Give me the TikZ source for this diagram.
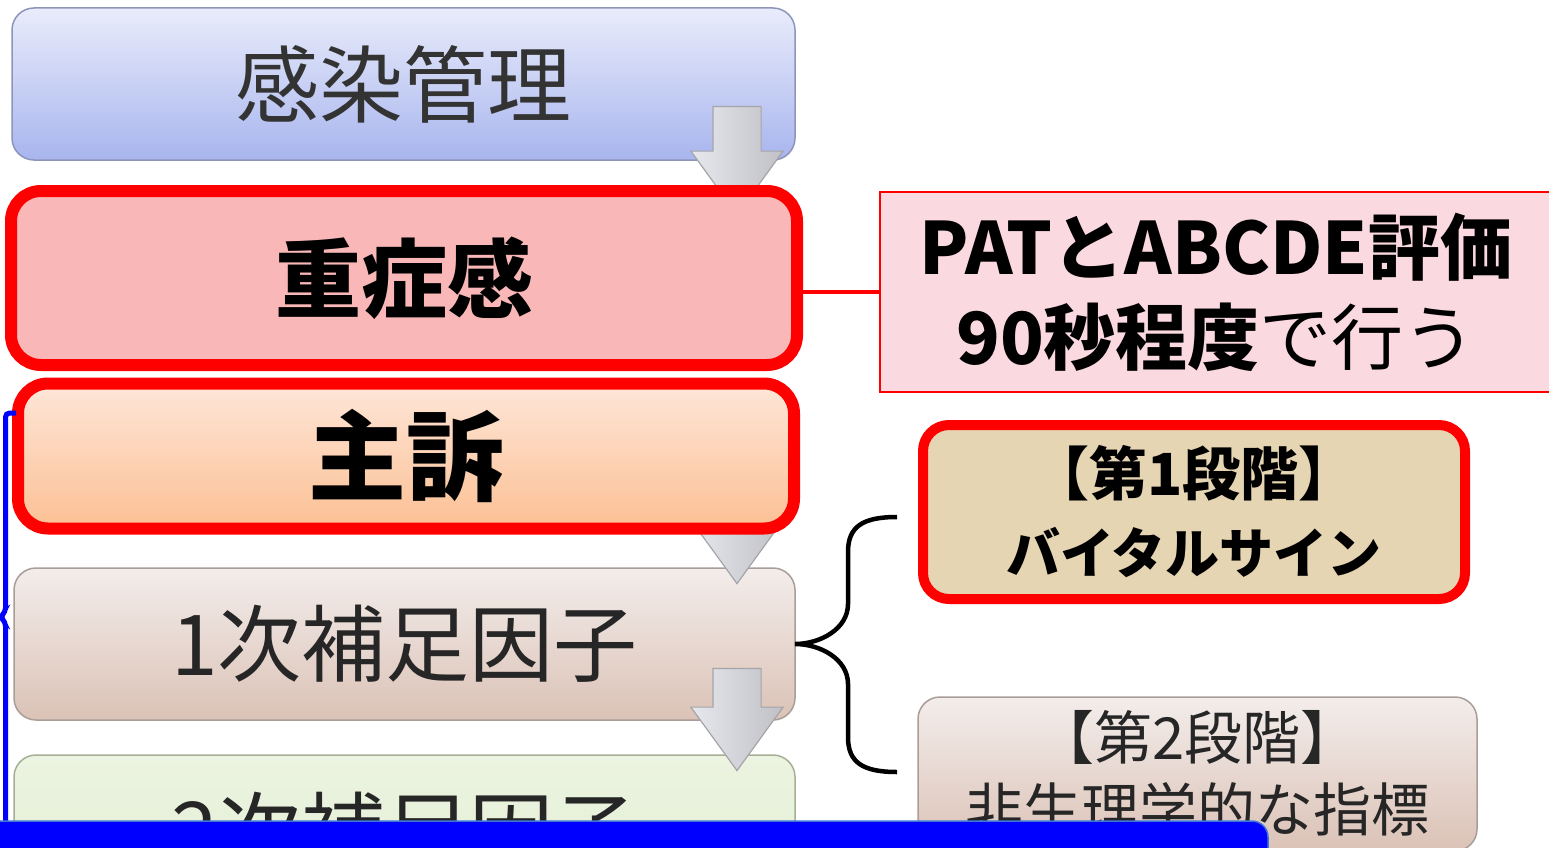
\documentclass[tikz,border=0pt]{standalone}
\usepackage{fontspec}
\setmainfont{Noto Sans CJK JP}
\usepackage{tikz}
\usetikzlibrary{shapes.arrows,calc}
\definecolor{infecttop}{RGB}{233,236,251}
\definecolor{infectbot}{RGB}{168,181,238}
\definecolor{infectline}{RGB}{141,149,185}
\definecolor{severe}{RGB}{249,183,183}
\definecolor{alert}{RGB}{255,0,0}
\definecolor{patpink}{RGB}{251,217,224}
\definecolor{compltop}{RGB}{253,230,216}
\definecolor{complbot}{RGB}{252,192,148}
\definecolor{primtop}{RGB}{243,237,235}
\definecolor{primbot}{RGB}{219,194,182}
\definecolor{primline}{RGB}{169,157,152}
\definecolor{sectop}{RGB}{236,244,225}
\definecolor{secbot}{RGB}{226,237,209}
\definecolor{secline}{RGB}{165,176,148}
\definecolor{stage}{RGB}{230,213,179}
\definecolor{flowtop}{RGB}{230,232,238}
\definecolor{flowbot}{RGB}{192,192,198}
\definecolor{flowline}{RGB}{165,165,168}
\definecolor{bar}{RGB}{0,0,255}
\definecolor{barline}{RGB}{63,118,214}

\begin{document}
\begin{tikzpicture}[x=1pt, y=-1pt,
  stepbox/.style={draw, rounded corners=22pt, line width=1.5pt, inner sep=0pt,
                  outer sep=0pt, align=center},
  alertbox/.style={draw=alert, rounded corners=30pt, line width=12pt, inner sep=0pt,
                   outer sep=0pt, align=center},
  flow/.style={single arrow, rotate=-90, draw=flowline, line width=1.2pt,
               left color=flowtop, right color=flowbot, inner xsep=0pt, inner ysep=23.5pt,
               single arrow head extend=22pt, single arrow tip angle=72},
]
\useasboundingbox (0,0) rectangle (1549,848);
\clip (0,0) rectangle (1549,848);

% main column
\node[stepbox, draw=infectline, top color=infecttop, bottom color=infectbot,
      minimum width=783pt, minimum height=152pt, text=black!80,
      font=\fontsize{84}{90}\selectfont] (infect) at (403.5,84) {感染管理};
\node[stepbox, draw=primline, top color=primtop, bottom color=primbot,
      minimum width=781pt, minimum height=152pt, text=black!85,
      font=\fontsize{84}{90}\selectfont] (prim) at (404.5,644) {1次補足因子};
\node[stepbox, draw=secline, top color=sectop, bottom color=secbot,
      minimum width=781pt, minimum height=152pt, text=black!85,
      font=\fontsize{84}{90}\selectfont] (sec) at (404.5,831) {2次補足因子};

% down arrows
\node[flow, minimum height=108pt] (down1) at (737,144) {};
\node[flow, minimum height=100pt] (down2) at (737,517) {};
\node[flow, minimum height=102pt] (down3) at (737,703) {};

% red boxes
\node[alertbox, fill=severe, minimum width=786pt, minimum height=174pt,
      font=\bfseries\fontsize{86}{90}\selectfont] (severe) at (404,278) {重症感};
\node[alertbox, top color=compltop, bottom color=complbot, minimum width=776pt,
      minimum height=145pt, font=\bfseries\fontsize{98}{100}\selectfont] (compl) at (406,456) {主訴};

% PAT note
\node[draw=alert, line width=2pt, fill=patpink, minimum width=672pt, minimum height=200pt,
      inner sep=0pt, align=center, font=\fontsize{72}{90}\selectfont] (pat) at (1216,292)
      {{\bfseries PATとABCDE評価}\\{\bfseries 90秒程度}で行う};
\draw[alert, line width=4pt] (pat.west) -- (pat.west -| severe.east);

% stages
\node[alertbox, rounded corners=26pt, line width=10pt, fill=stage, minimum width=542pt,
      minimum height=174pt, font=\bfseries\fontsize{54}{78}\selectfont] (stage1) at (1194,512)
      {{\fontsize{58}{78}\selectfont【第1段階】}\\バイタルサイン};
\node[stepbox, draw=primline, top color=primtop, bottom color=primbot, minimum width=559pt,
      minimum height=154pt, text=black!85, font=\fontsize{58}{72}\selectfont] (stage2) at (1197.5,774)
      {【第2段階】\\非生理学的な指標};

% brace
\coordinate (brtop) at (897,517);
\coordinate (brbot) at (897,772);
\draw[line width=4.5pt] (brtop) .. controls +(-35,0) and +(0,-25) .. ($(brtop)+(-49,35)$)
  -- ($(prim.east)+(53,-40)$) .. controls +(0,25) and +(25,0) .. (prim.east)
  .. controls +(25,0) and +(0,-25) .. ($(prim.east)+(53,40)$)
  -- ($(brbot)+(-49,-35)$) .. controls +(0,25) and +(-35,0) .. (brbot);

% left bracket
\coordinate (bltop) at (16,413);
\draw[bar, line width=5pt, rounded corners=4pt] (bltop) -- (5.5,413) -- (5.5,612) -- (0,617)
  -- (5.5,622) -- (5.5,850);

% bottom bar
\node[draw=barline, line width=1.5pt, fill=bar, rounded corners=16pt, minimum width=1300pt,
      minimum height=60pt, inner sep=0pt] (bottombar) at (618,851) {};
\end{tikzpicture}
\end{document}
